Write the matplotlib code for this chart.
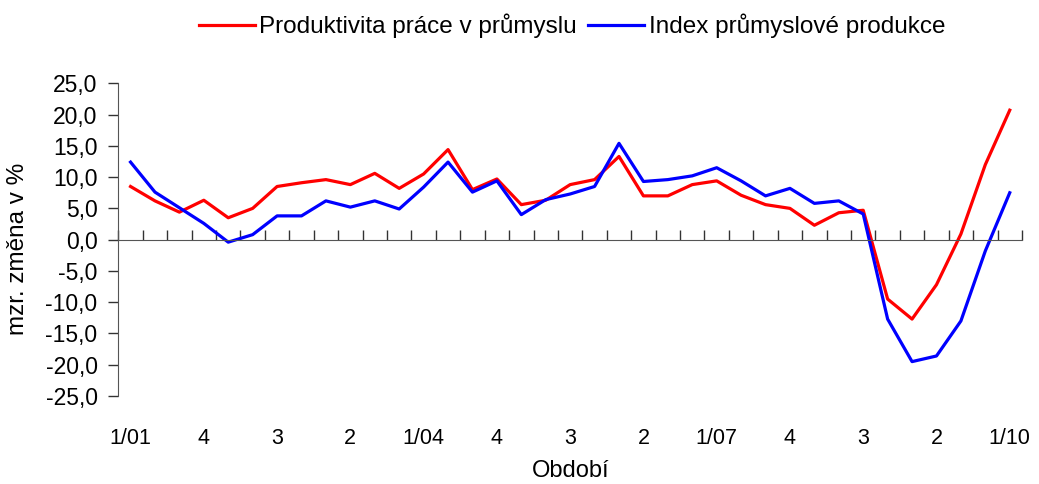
import matplotlib
matplotlib.use("Agg")
import matplotlib.pyplot as plt
from matplotlib.ticker import FuncFormatter
import numpy as np

plt.rcParams['font.family'] = ['Liberation Sans', 'DejaVu Sans']

# quarterly data 1/2001 .. 1/2010
periods = [f"{q}/{y:02d}" for y in range(1, 10) for q in range(1, 5)] + ["1/10"]
tick_labels = ["1/01", "4", "3", "2", "1/04", "4", "3", "2", "1/07", "4", "3", "2", "1/10"]

produktivita = [8.5, 6.2, 4.4, 6.3, 3.5, 5.0, 8.5, 9.1, 9.6, 8.8, 10.6, 8.2,
                10.5, 14.4, 8.0, 9.7, 5.6, 6.3, 8.8, 9.6, 13.3, 7.0, 7.0, 8.8,
                9.4, 7.1, 5.6, 5.0, 2.3, 4.3, 4.7, -9.5, -12.7, -7.2, 0.9, 12.0, 20.7]
index_prod = [12.4, 7.6, 5.1, 2.6, -0.4, 0.8, 3.8, 3.8, 6.2, 5.2, 6.2, 4.9,
              8.4, 12.4, 7.6, 9.4, 4.0, 6.4, 7.3, 8.5, 15.4, 9.3, 9.6, 10.2,
              11.5, 9.4, 7.0, 8.2, 5.8, 6.2, 4.1, -12.7, -19.5, -18.6, -13.0, -1.8, 7.5]

x = np.arange(len(periods))

fig = plt.figure(figsize=(10.39, 4.84), dpi=100)
ax = fig.add_axes([0.1139, 0.1818, 0.8697, 0.6461])

l1, = ax.plot(x, produktivita, color='#FF0000', lw=2.3, label='Produktivita práce v průmyslu')
l2, = ax.plot(x, index_prod, color='#0000FF', lw=2.3, label='Index průmyslové produkce')

ax.set_xlim(-0.5, len(x) - 0.5)
ax.set_ylim(-25, 25)
ax.set_yticks(np.arange(-25, 26, 5))
ax.yaxis.set_major_formatter(FuncFormatter(lambda v, p: f"{v:.1f}".replace('.', ',')))
ax.tick_params(axis='y', direction='out', length=7, width=1, color='#333333',
               labelsize=16.5, pad=8)

for s in ['top', 'right']:
    ax.spines[s].set_visible(False)
ax.spines['left'].set_color('#555555')
ax.spines['bottom'].set_position(('data', 0))
ax.spines['bottom'].set_color('#555555')

# category boundaries as ticks on the zero line
ax.set_xticks(np.arange(-0.5, len(x), 1))
ax.set_xticklabels([])
ax.tick_params(axis='x', direction='in', length=7, width=1, color='#333333')

# labels at the bottom of the plot
sec = ax.secondary_xaxis('bottom')
sec.set_xticks(x[::3])
sec.set_xticklabels(tick_labels)
sec.tick_params(length=0, labelsize=15.5, pad=23)
sec.spines['bottom'].set_visible(False)

ax.set_ylabel('mzr. změna v %', fontsize=17.5)
ax.yaxis.set_label_coords(-0.0985, 0.47)
ax.set_xlabel('Období', fontsize=17)
ax.xaxis.set_label_coords(0.5, -0.205)

fig.legend(handles=[l1, l2], loc='center', bbox_to_anchor=(0.5505, 0.946), ncol=2,
           frameon=False, fontsize=17.5, handlelength=2.3, handletextpad=0.2,
           columnspacing=0.45)

fig.savefig('out.png', dpi=100)
